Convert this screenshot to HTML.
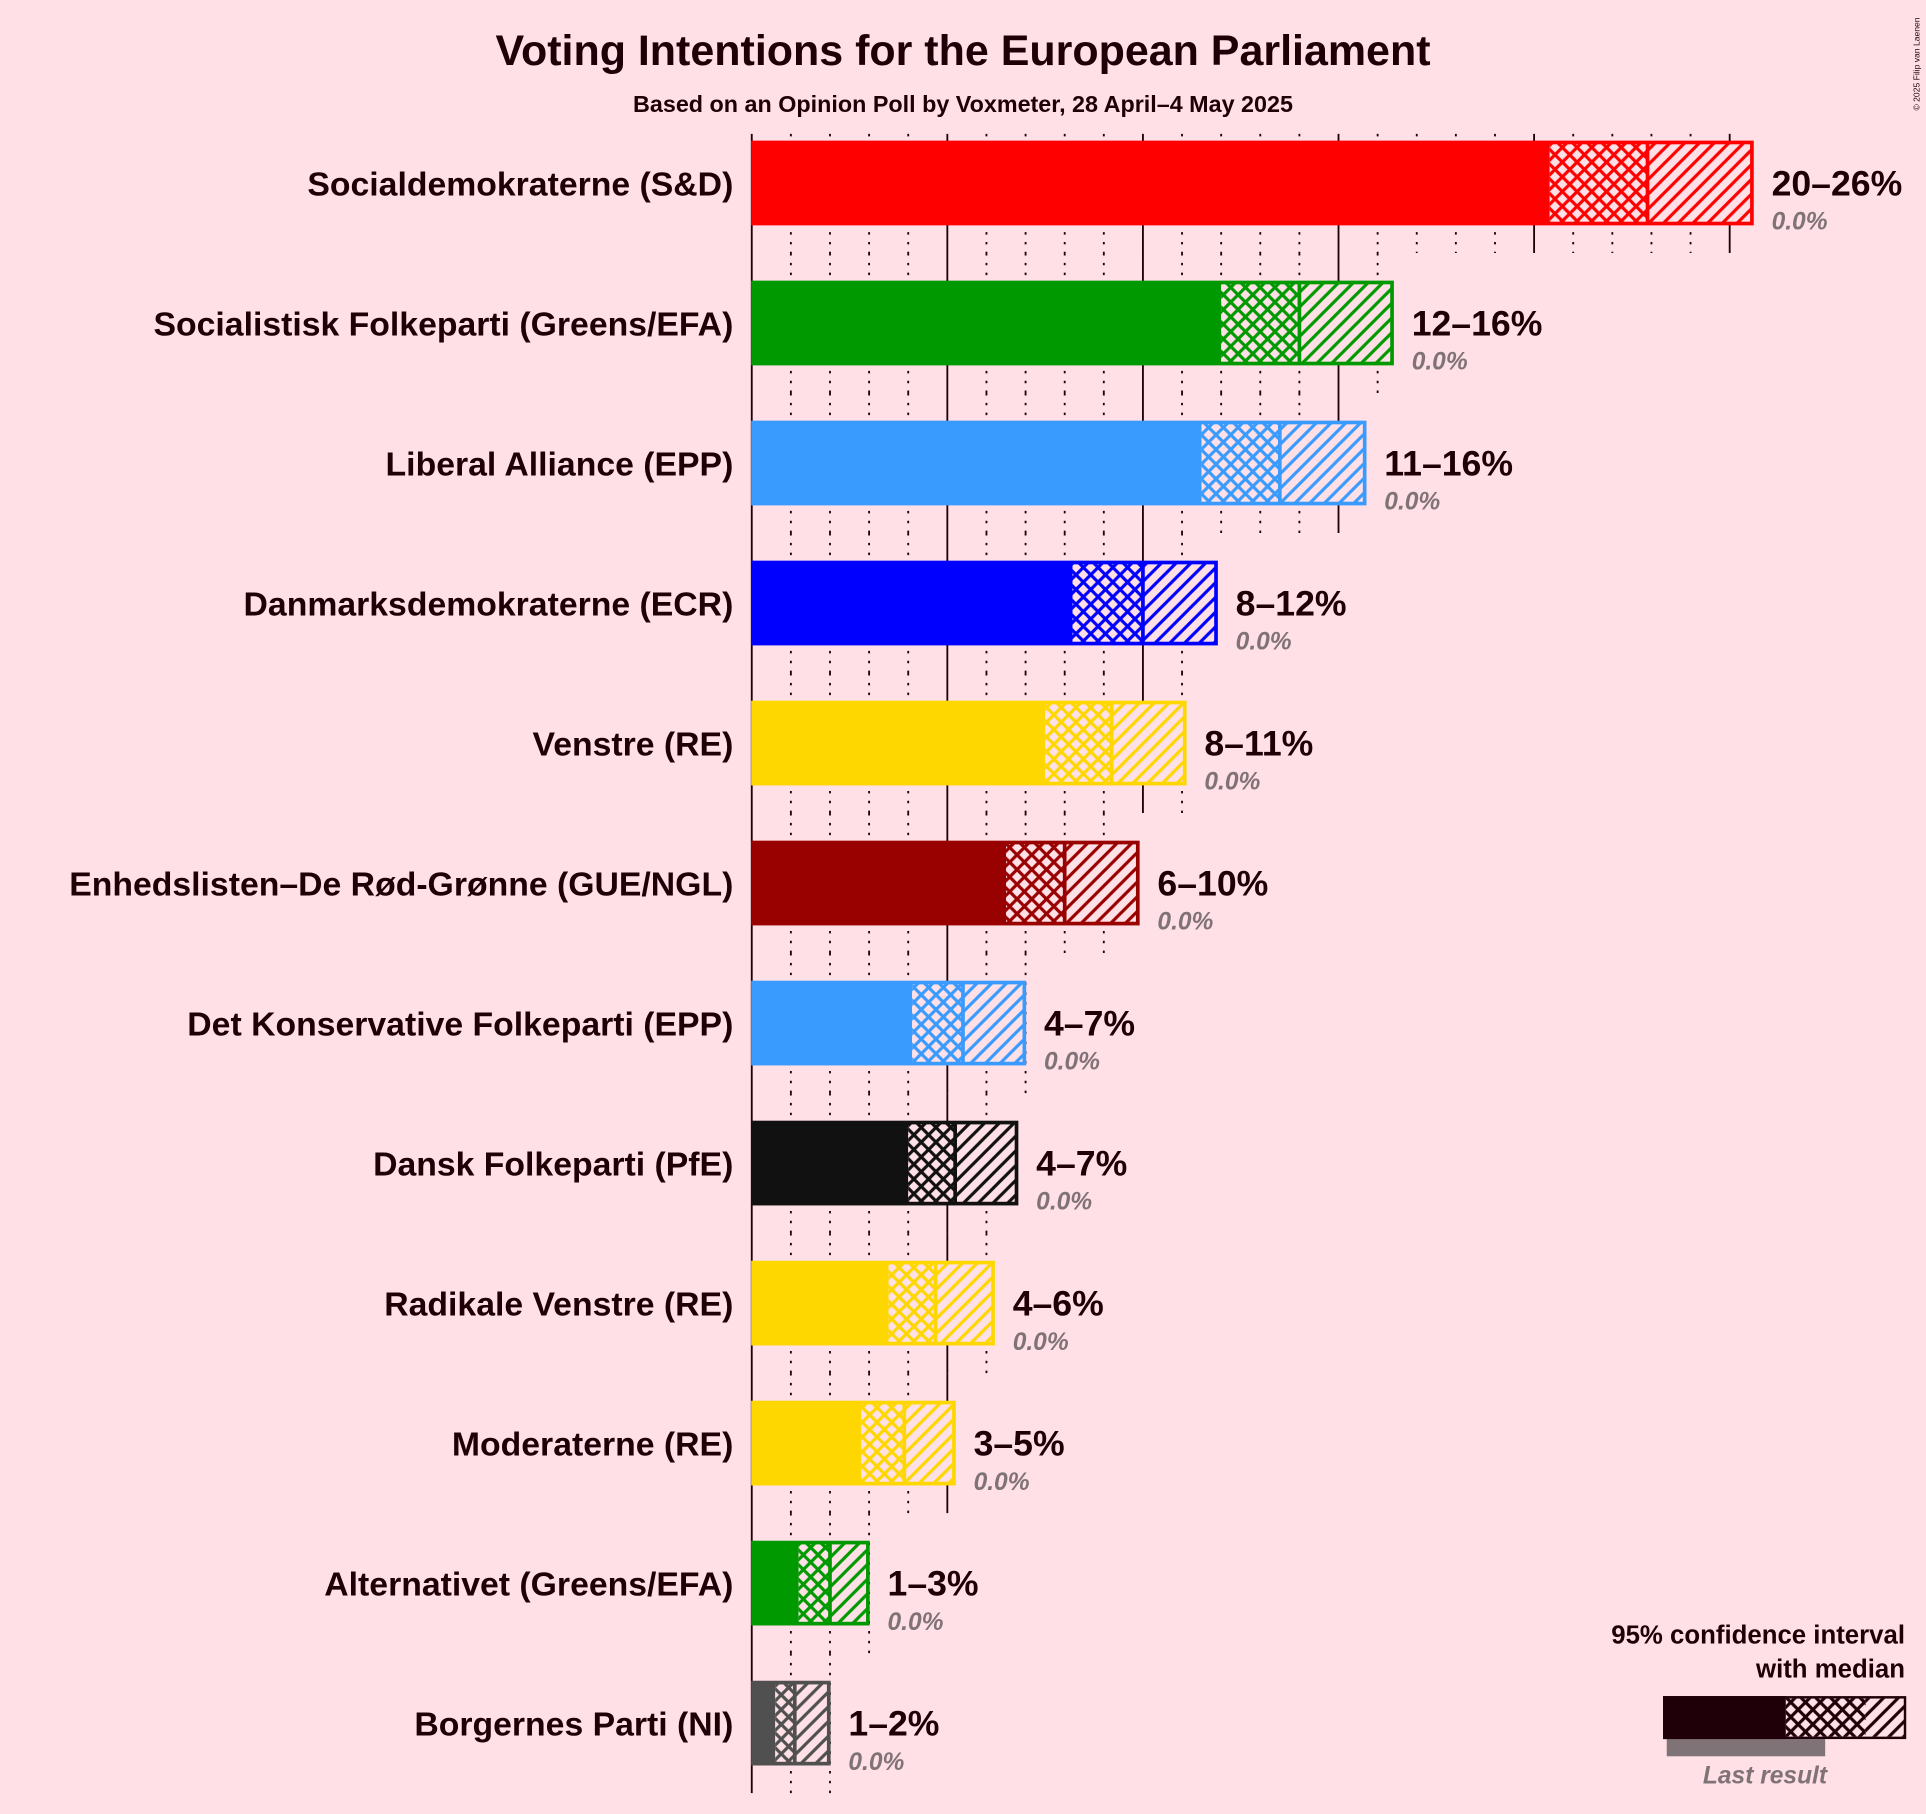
<!DOCTYPE html>
<html><head><meta charset="utf-8"><style>
html,body{margin:0;padding:0;background:#ffe0e6;}
svg{display:block;font-family:"Liberation Sans",sans-serif;}
</style></head><body>
<svg id="chart" width="1926" height="1814" viewBox="0 0 1568 1477" xmlns="http://www.w3.org/2000/svg">
<rect width="1568" height="1477" fill="#ffe0e6"/>
<defs id="defs"></defs>
<text x="784" y="53" text-anchor="middle" font-size="35" font-weight="bold" fill="#200008">Voting Intentions for the European Parliament</text>
<text x="784" y="91" text-anchor="middle" font-size="19" font-weight="bold" fill="#200008">Based on an Opinion Poll by Voxmeter, 28 April–4 May 2025</text>
<text x="1563" y="90" transform="rotate(-90 1563 90)" font-size="7" fill="#200008">© 2025 Filip van Laenen</text>
<g id="grid"></g>
<g id="bars"></g>
<g>
<text x="1551" y="1338" text-anchor="end" font-size="21" font-weight="bold" fill="#200008">95% confidence interval</text>
<text x="1551" y="1366" text-anchor="end" font-size="21" font-weight="bold" fill="#200008">with median</text>
<rect x="1357" y="1416" width="129" height="14" fill="#807378"/>
<rect x="1354" y="1381" width="100" height="35" fill="#200008"/>
<rect x="1454" y="1383" width="65" height="31" fill="url(#xh-200008)"/>
<rect x="1519" y="1383" width="32" height="31" fill="url(#dh-200008)"/>
<rect x="1355" y="1382" width="196" height="33" fill="none" stroke="#200008" stroke-width="2"/>
<text x="1437" y="1452" text-anchor="middle" font-size="20" font-style="italic" font-weight="bold" fill="#807378">Last result</text>
</g>
</svg>
<script>
const parties=["Socialdemokraterne (S&D)","Socialistisk Folkeparti (Greens/EFA)","Liberal Alliance (EPP)","Danmarksdemokraterne (ECR)","Venstre (RE)","Enhedslisten–De Rød-Grønne (GUE/NGL)","Det Konservative Folkeparti (EPP)","Dansk Folkeparti (PfE)","Radikale Venstre (RE)","Moderaterne (RE)","Alternativet (Greens/EFA)","Borgernes Parti (NI)"];
const ciLow=[20.4,12.0,11.5,8.2,7.5,6.5,4.1,4.0,3.5,2.8,1.2,0.6];
const median=[22.9,14.0,13.5,10.0,9.2,8.0,5.4,5.2,4.7,3.9,2.0,1.1];
const ciHigh=[25.6,16.4,15.7,11.9,11.1,9.9,7.0,6.8,6.2,5.2,3.0,2.0];
const rangeLabels=["20–26%","12–16%","11–16%","8–12%","8–11%","6–10%","4–7%","4–7%","4–6%","3–5%","1–3%","1–2%"];
const lastResult=["0.0%","0.0%","0.0%","0.0%","0.0%","0.0%","0.0%","0.0%","0.0%","0.0%","0.0%","0.0%"];
const colors=["#ff0000","#009900","#3a9bff","#0000ff","#ffd700","#990000","#3a9bff","#111111","#ffd700","#ffd700","#009900","#505050"];
const NS="http://www.w3.org/2000/svg";
const X0=612,PX=31.85,ROW0=149,ROWH=114,BH=68;
const x=v=>X0+v*PX, yc=i=>ROW0+i*ROWH;
function mk(t,a,p){const e=document.createElementNS(NS,t);for(const k in a)e.setAttribute(k,a[k]);p.appendChild(e);return e;}
const defs=document.getElementById('defs');
function pats(c){const id=c.slice(1);if(document.getElementById('xh-'+id))return;
 const p1=mk('pattern',{id:'xh-'+id,patternUnits:'userSpaceOnUse',width:12,height:12},defs);
 mk('rect',{width:12,height:12,fill:'#ffe0e6'},p1);
 mk('path',{d:'M-3,3 L3,-3 M0,12 L12,0 M9,15 L15,9 M-3,9 L3,15 M0,0 L12,12 M9,-3 L15,3',stroke:c,'stroke-width':2.6},p1);
 const p2=mk('pattern',{id:'dh-'+id,patternUnits:'userSpaceOnUse',width:12,height:12},defs);
 mk('rect',{width:12,height:12,fill:'#ffe0e6'},p2);
 mk('path',{d:'M-3,3 L3,-3 M0,12 L12,0 M9,15 L15,9',stroke:c,'stroke-width':2.6},p2);}
pats('#200008');
const grid=document.getElementById('grid'),bars=document.getElementById('bars');
mk('line',{x1:X0,y1:109,x2:X0,y2:1460,stroke:'#200008','stroke-width':1.5},grid);
parties.forEach((p,i)=>{
 const top=yc(i)-BH/2, gTop=i===0?top-6:top-23, gBot=top+BH+23;
 const maxT=Math.floor(ciHigh[i]);
 for(let t=1;t<=maxT;t++){
  const l=mk('line',{x1:x(t),y1:gTop,x2:x(t),y2:gBot,stroke:'#200008','stroke-width':1.5},grid);
  if(t%5!==0)l.setAttribute('stroke-dasharray','2,6');
 }
 const c=colors[i];pats(c);const id=c.slice(1);
 const g=mk('g',{},bars);
 
 
 mk('rect',{x:X0,y:top,width:x(ciLow[i])-X0,height:BH,fill:c},g);
 mk('rect',{x:x(ciLow[i]),y:top,width:x(median[i])-x(ciLow[i]),height:BH,fill:'url(#xh-'+id+')'},g);
 mk('rect',{x:x(median[i]),y:top,width:x(ciHigh[i])-x(median[i]),height:BH,fill:'url(#dh-'+id+')'},g);
 mk('rect',{x:X0+1,y:top+1,width:x(ciHigh[i])-X0-2,height:BH-2,fill:'none',stroke:c,'stroke-width':3},g);
 mk('line',{x1:x(median[i]),y1:top,x2:x(median[i]),y2:top+BH,stroke:c,'stroke-width':3},g);
 const lb=mk('text',{x:597,y:yc(i)+10,'text-anchor':'end','font-size':27.5,'font-weight':'bold',fill:'#200008'},bars);
 lb.textContent=p;
 
 
 const rl=mk('text',{x:x(ciHigh[i])+15,y:yc(i)+10,'font-size':29,'font-weight':'bold',fill:'#200008'},bars);
 rl.textContent=rangeLabels[i];
 
 
 const ll=mk('text',{x:x(ciHigh[i])+15,y:yc(i)+38,'font-size':20,'font-style':'italic','font-weight':'bold',fill:'#807378'},bars);
 ll.textContent=lastResult[i];
 
 
});
</script>
</body></html>
